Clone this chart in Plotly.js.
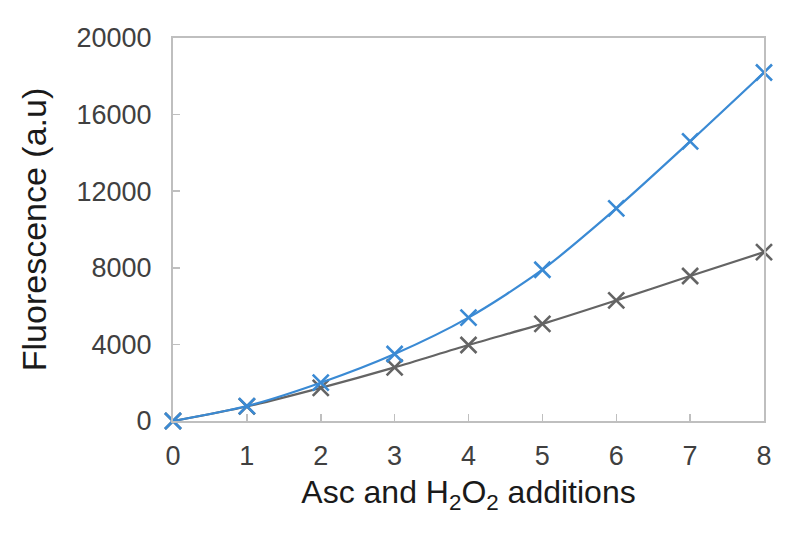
<!DOCTYPE html>
<html><head><meta charset="utf-8">
<script src="https://cdn.plot.ly/plotly-3.0.1.min.js"></script>
<style>body{margin:0;background:#fff}#chart{width:800px;height:537px}</style>
</head><body><div id="chart"></div>
<script>
const additions = [0, 1, 2, 3, 4, 5, 6, 7, 8];
const blueSeries = [0, 780, 2000, 3500, 5400, 7900, 11100, 14600, 18200];
const graySeries = [0, 760, 1730, 2800, 3970, 5070, 6300, 7570, 8820];
const yTicks = [0, 4000, 8000, 12000, 16000, 20000];

const common = {mode: 'lines+markers', line: {shape: 'spline', width: 2.2, smoothing: 0.8},
  hoverinfo: 'skip', showlegend: false, cliponaxis: false};
const traces = [
  Object.assign({}, common, {x: additions, y: graySeries,
    line: Object.assign({}, common.line, {color: '#646464'}),
    marker: {symbol: 'x-thin', size: 16, line: {color: '#646464', width: 2.6}}}),
  Object.assign({}, common, {x: additions, y: blueSeries,
    line: Object.assign({}, common.line, {color: '#3a8ad4'}),
    marker: {symbol: 'x-thin', size: 16, line: {color: '#3a8ad4', width: 2.6}}})
];
const layout = {
  width: 800, height: 537,
  margin: {l: 173, r: 36, t: 38, b: 116},
  paper_bgcolor: '#fff', plot_bgcolor: '#fff',
  font: {family: 'Liberation Sans, Arial, sans-serif', color: '#404040'},
  xaxis: {range: [0, 8], tickvals: additions, ticks: 'inside', ticklen: 7, tickcolor: '#bfbfbf', tickwidth: 1.5,
    showline: true, mirror: true, linecolor: '#bfbfbf', linewidth: 2, showgrid: false, zeroline: false,
    tickfont: {size: 27, color: '#404040'}, ticklabelstandoff: 10,
    title: {text: 'Asc and H<sub>2</sub>O<sub>2</sub> additions', font: {size: 32, color: '#1a1a1a'}, standoff: 10}},
  yaxis: {range: [0, 20000], tickvals: yTicks, tickformat: 'd', ticks: 'inside', ticklen: 7, tickcolor: '#bfbfbf', tickwidth: 1.5,
    showline: true, mirror: true, linecolor: '#bfbfbf', linewidth: 2, showgrid: false, zeroline: false,
    tickfont: {size: 27, color: '#404040'}, ticklabelstandoff: 14,
    title: {text: 'Fluorescence (a.u)', font: {size: 34, color: '#1a1a1a'}, standoff: 20}}
};
Plotly.newPlot('chart', traces, layout, {displayModeBar: false, staticPlot: true});
</script></body></html>
